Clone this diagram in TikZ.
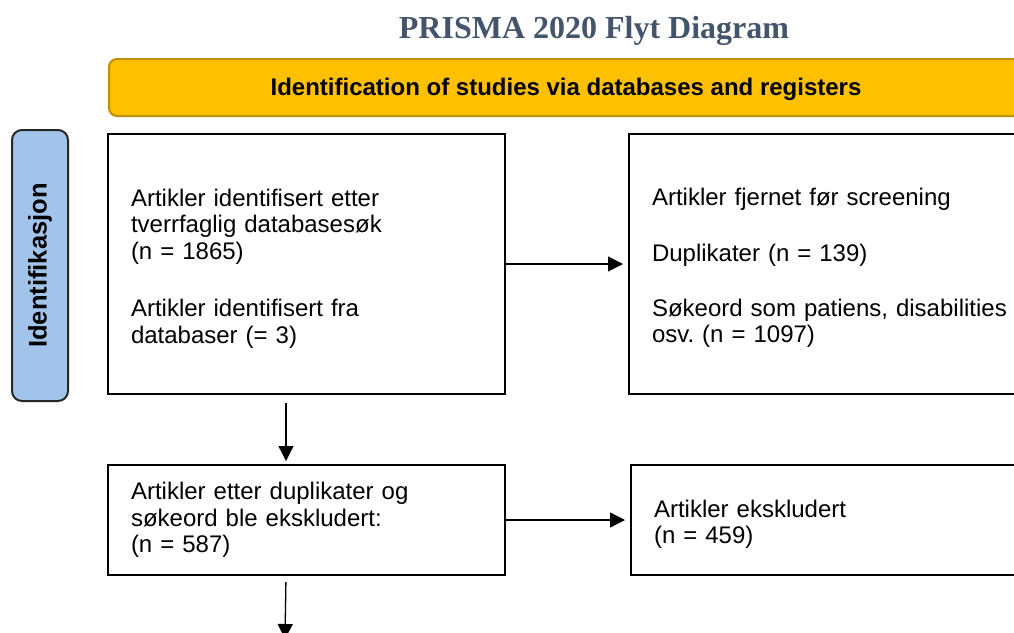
\documentclass[tikz,border=0pt]{standalone}
\usepackage{fontspec}
\setmainfont{Liberation Sans}
\newfontfamily\titlefont{Liberation Serif}
\usetikzlibrary{arrows.meta}
\frenchspacing

\definecolor{prismagold}{HTML}{FFC000}
\definecolor{prismagoldline}{HTML}{BF9000}
\definecolor{prismablue}{HTML}{A3C4EA}
\definecolor{prismatitle}{HTML}{44546A}

\tikzset{
	flowbox/.style={draw, line width=2pt, rectangle, anchor=north west, align=left,
		text width=351pt, inner xsep=23pt, inner ysep=0pt,
		font=\fontsize{24}{26.5}\selectfont},
	lowered/.style={execute at begin node={\rule{0pt}{#1}}},
	flowarrow/.style={line width=1.3pt, -{Triangle[length=15pt,width=15pt]}},
}

\begin{document}
\begin{tikzpicture}[x=1pt, y=-1pt]
	\useasboundingbox (0,0) rectangle (1014,632);
	
	\node[font=\titlefont\bfseries\fontsize{32}{36}\selectfont, text=prismatitle] (title) at (594,31) {PRISMA 2020 Flyt Diagram};
	
	\node[draw=prismagoldline, fill=prismagold, line width=2pt, rounded corners=8pt,
		anchor=north west, minimum width=914pt, minimum height=57pt,
		font=\bfseries\fontsize{24}{26}\selectfont] (banner) at (108,58)
		{\rule{0pt}{21pt}Identification of studies via databases and registers};
	
	\node[draw=black!85, fill=prismablue, line width=2pt, rounded corners=10pt,
		rotate=90, minimum width=271pt, minimum height=56pt,
		font=\bfseries\fontsize{25.5}{27}\selectfont] (stage) at (40,265.5) {Identifikasjon};
	
	\node[flowbox, lowered=26.5pt, minimum height=260pt] (found) at (107,133)
		{Artikler identifisert etter\\ tverrfaglig databasesøk\\ (n = 1865)\\[31pt]
		Artikler identifisert fra\\ databaser (= 3)};
	\node[flowbox, lowered=25pt, text width=370pt, minimum height=260pt] (removed) at (628,133)
		{Artikler fjernet før screening\\[30pt] Duplikater (n = 139)\\[28pt]
		Søkeord som patiens, disabilities\\ osv. (n = 1097)};
	
	\node[flowbox, minimum height=110pt] (kept) at (107,464)
		{Artikler etter duplikater og\\ søkeord ble ekskludert:\\ (n = 587)};
	\node[flowbox, lowered=26pt, text width=370pt, minimum height=110pt] (excluded) at (630,464)
		{Artikler ekskludert\\ (n = 459)};
	
	\coordinate (next) at (285,639);
	
	\draw[flowarrow, shorten >=5pt] (found.east) -- (removed.west);
	\draw[flowarrow, shorten <=8pt, shorten >=3pt] ([xshift=-20.5pt]found.south) -- ([xshift=-20.5pt]kept.north);
	\draw[flowarrow, shorten >=5pt] (kept.east) -- (excluded.west);
	\draw[flowarrow, shorten <=6pt] ([xshift=-20.5pt]kept.south) -- (next);
\end{tikzpicture}
\end{document}
